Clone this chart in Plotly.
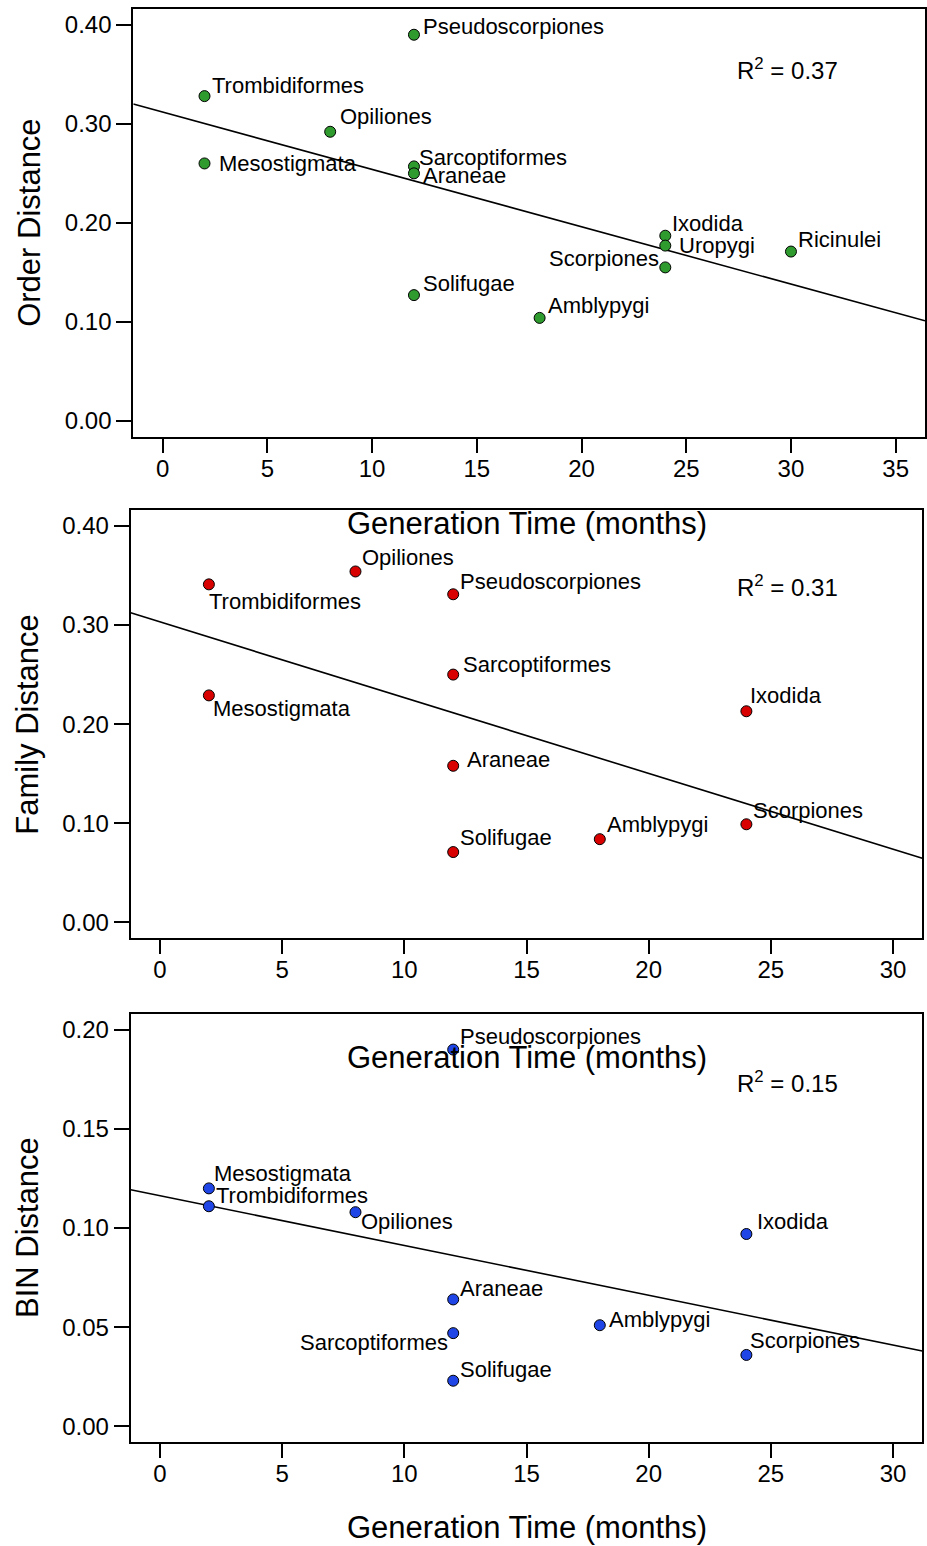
import plotly.graph_objects as go

# ---------------- data ----------------
order_names = ["Pseudoscorpiones", "Trombidiformes", "Opiliones", "Mesostigmata",
               "Sarcoptiformes", "Araneae", "Solifugae", "Ixodida", "Uropygi",
               "Scorpiones", "Ricinulei", "Amblypygi"]
order_gen = [12, 2, 8, 2, 12, 12, 12, 24, 24, 24, 30, 18]
order_dist = [0.390, 0.328, 0.292, 0.260, 0.257, 0.250, 0.127, 0.187, 0.177,
              0.155, 0.171, 0.104]

family_names = ["Trombidiformes", "Opiliones", "Pseudoscorpiones", "Sarcoptiformes",
                "Mesostigmata", "Araneae", "Solifugae", "Ixodida", "Scorpiones",
                "Amblypygi"]
family_gen = [2, 8, 12, 12, 2, 12, 12, 24, 24, 18]
family_dist = [0.341, 0.354, 0.331, 0.250, 0.229, 0.158, 0.071, 0.213, 0.099, 0.084]

bin_names = ["Pseudoscorpiones", "Mesostigmata", "Trombidiformes", "Opiliones",
             "Araneae", "Sarcoptiformes", "Solifugae", "Ixodida", "Amblypygi",
             "Scorpiones"]
bin_gen = [12, 2, 2, 8, 12, 12, 12, 24, 18, 24]
bin_dist = [0.190, 0.120, 0.111, 0.108, 0.064, 0.047, 0.023, 0.097, 0.051, 0.036]

# fitted regression lines (intercept, slope) and R^2 text
fit_intercept = [0.3119, 0.3031, 0.1163]
fit_slope = [-0.005793, -0.00764, -0.002509]
r2_text = ["0.37", "0.31", "0.15"]

y_titles = ["Order Distance", "Family Distance", "BIN Distance"]
x_title = "Generation Time (months)"

# ---------------- layout / style ----------------
W, H = 927, 1546
FONT = "Liberation Sans, Arial, sans-serif"
colors = ["#2f9b2f", "#d90000", "#1f45e6"]

# pixel boxes: (left, right, top, bottom)
boxes = [(133.3, 925.0, 9.0, 436.7),
         (130.7, 922.3, 510.0, 938.3),
         (130.7, 922.3, 1013.9, 1442.2)]
xranges = [[-1.4, 36.4], [-1.2, 31.2], [-1.2, 31.2]]
yranges = [[-0.016, 0.416], [-0.016, 0.416], [-0.008, 0.208]]
xticks = [list(range(0, 40, 5)), list(range(0, 35, 5)), list(range(0, 35, 5))]
yticks = [[0.0, 0.1, 0.2, 0.3, 0.4], [0.0, 0.1, 0.2, 0.3, 0.4],
          [0.0, 0.05, 0.10, 0.15, 0.20]]

# label placement (anchor, dx px, dy px downward)
place = [
    [("left", 8, -8), ("left", 6.5, -11), ("left", 9, -15), ("left", 13, 0),
     ("left", 4.5, -9), ("left", 8.5, 2), ("left", 8, -12), ("left", 6, -12),
     ("left", 13, 0), ("right", -5, -9), ("left", 6, -12), ("left", 7, -12)],
    [("left", -1, 17.6), ("left", 6, -13.7), ("left", 6, -12.6), ("left", 8.5, -10.3),
     ("left", 3, 12.6), ("left", 12.5, -6.7), ("left", 6, -15), ("left", 3, -15.3),
     ("left", 6, -13.3), ("left", 6, -14.3)],
    [("left", 6, -13), ("left", 4, -15), ("left", 6.5, -10.4), ("left", 4.5, 9.4),
     ("left", 6, -11), ("right", -4, 9), ("left", 6, -10.8), ("left", 10, -13),
     ("left", 8.5, -5.6), ("left", 3, -14.7)],
]
r2_pos = [(735.5, 68.5), (735.5, 586.5), (735.5, 1082)]
ytitle_x = [30, 27.5, 27]
xtitle_y = [523.7, 1057.5, 1527.5]

datasets = [(order_names, order_gen, order_dist),
            (family_names, family_gen, family_dist),
            (bin_names, bin_gen, bin_dist)]

fig = go.Figure()
annotations = []
layout = {}

for i, ((names, gx, gy), box) in enumerate(zip(datasets, boxes)):
    sfx = "" if i == 0 else str(i + 1)
    xa, ya = "x" + sfx, "y" + sfx
    l, r, t, b = box
    layout["xaxis" + sfx] = dict(
        domain=[l / W, r / W], range=xranges[i], anchor=ya,
        tickvals=xticks[i], ticks="outside", ticklen=14, tickwidth=1.6,
        tickcolor="black", showline=True, mirror=True, linecolor="black",
        linewidth=2, showgrid=False, zeroline=False, ticklabelstandoff=-5,
        tickfont=dict(family=FONT, size=24, color="black"))
    layout["yaxis" + sfx] = dict(
        domain=[1 - b / H, 1 - t / H], range=yranges[i], anchor=xa,
        tickvals=yticks[i], tickformat=".2f", ticks="outside", ticklen=15,
        tickwidth=1.6, tickcolor="black", showline=True, mirror=True,
        linecolor="black", linewidth=2, showgrid=False, zeroline=False,
        tickfont=dict(family=FONT, size=24, color="black"))

    # regression line across the full x range
    lx = xranges[i]
    ly = [fit_intercept[i] + fit_slope[i] * v for v in lx]
    fig.add_trace(go.Scatter(x=lx, y=ly, mode="lines", xaxis=xa, yaxis=ya,
                             line=dict(color="black", width=1.6),
                             showlegend=False, hoverinfo="skip"))
    # points
    fig.add_trace(go.Scatter(x=gx, y=gy, mode="markers", xaxis=xa, yaxis=ya,
                             marker=dict(size=11, color=colors[i],
                                         line=dict(color="black", width=1)),
                             showlegend=False, text=names))
    # point labels
    for name, xv, yv, (anc, dx, dy) in zip(names, gx, gy, place[i]):
        annotations.append(dict(
            x=xv, y=yv, xref=xa, yref=ya, text=name, showarrow=False,
            xanchor=anc, yanchor="middle", xshift=dx, yshift=-dy, borderpad=0,
            font=dict(family=FONT, size=22, color="black")))
    # R^2
    rx, ry = r2_pos[i]
    annotations.append(dict(
        x=rx / W, y=1 - ry / H, xref="paper", yref="paper",
        text="R<sup>2</sup> = " + r2_text[i], showarrow=False,
        xanchor="left", yanchor="middle", borderpad=0,
        font=dict(family=FONT, size=24, color="black")))
    # y title
    annotations.append(dict(
        x=ytitle_x[i] / W, y=1 - (t + b) / 2 / H, xref="paper", yref="paper",
        text=y_titles[i], showarrow=False, textangle=-90,
        xanchor="center", yanchor="middle",
        font=dict(family=FONT, size=31, color="black")))
    # x title
    annotations.append(dict(
        x=527 / W, y=1 - xtitle_y[i] / H, xref="paper", yref="paper",
        text=x_title, showarrow=False, xanchor="center", yanchor="middle",
        font=dict(family=FONT, size=31, color="black")))

fig.update_layout(
    width=W, height=H, autosize=False,
    margin=dict(l=0, r=0, t=0, b=0),
    paper_bgcolor="white", plot_bgcolor="white",
    annotations=annotations, **layout)

fig.write_html("out.html")
